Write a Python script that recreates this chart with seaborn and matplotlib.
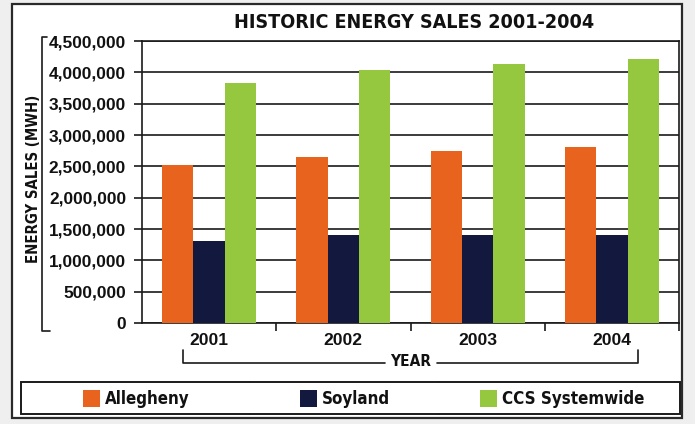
import matplotlib
matplotlib.use("Agg")
import matplotlib.pyplot as plt
from matplotlib import font_manager
from matplotlib.lines import Line2D
from matplotlib.patches import Rectangle
from matplotlib.ticker import FuncFormatter, FixedLocator
import seaborn as sns
import pandas as pd

years = ["2001", "2002", "2003", "2004"]
series = ["Allegheny", "Soyland", "CCS Systemwide"]
allegheny = [2515000, 2645000, 2740000, 2815000]
soyland = [1310000, 1410000, 1405000, 1405000]
ccs = [3825000, 4035000, 4135000, 4215000]
colors = ["#E8641E", "#13183F", "#95C83E"]
yticks = [0, 500000, 1000000, 1500000, 2000000, 2500000, 3000000, 3500000, 4000000, 4500000]
title = "HISTORIC ENERGY SALES 2001-2004"
ylabel = "ENERGY SALES (MWH)"
xlabel = "YEAR"

df = pd.DataFrame({
    "year": years * 3,
    "series": [s for s in series for _ in years],
    "value": allegheny + soyland + ccs,
})

sns.set_theme(style="white")
names = {f.name for f in font_manager.fontManager.ttflist}
narrow = "Liberation Sans Narrow" if "Liberation Sans Narrow" in names else None
regular = "Liberation Sans" if "Liberation Sans" in names else "DejaVu Sans"
plt.rcParams["font.family"] = [regular, "DejaVu Sans"]

def nfont(size):
    if narrow:
        return dict(family=narrow, fontsize=size, fontweight="bold")
    return dict(family="DejaVu Sans", fontsize=size * 0.85, fontweight="bold", fontstretch="condensed")

W, H = 695, 424
fig = plt.figure(figsize=(W / 100, H / 100), dpi=100, facecolor="#efefef")

def fx(x):
    return x / W

def fy(y):
    return 1 - y / H

# outer white panel
fig.patches.append(Rectangle((fx(12), fy(418)), fx(682) - fx(12), fy(4) - fy(418),
                             transform=fig.transFigure, facecolor="white",
                             edgecolor="#2a2a2a", lw=1.6, zorder=-5))

ax = fig.add_axes([fx(142), fy(323), fx(679) - fx(142), fy(41) - fy(323)])
ax.set_zorder(2)
ax.set_facecolor("white")
sns.barplot(data=df, x="year", y="value", hue="series", hue_order=series,
            order=years, palette=colors, width=0.7, saturation=1, gap=0,
            legend=False, ax=ax, zorder=3, linewidth=0)

ax.set_ylim(0, 4500000)
ax.set_xlim(-0.5, 3.5)
ax.yaxis.set_major_locator(FixedLocator(yticks))
ax.yaxis.set_major_formatter(FuncFormatter(lambda v, p: f"{int(v):,}"))
ax.grid(axis="y", color="#1a1a1a", lw=1.2, zorder=0)
ax.set_axisbelow(True)
for s in ax.spines.values():
    s.set_color("#1a1a1a")
    s.set_linewidth(1.2)
ax.set_xlabel("")
ax.set_ylabel("")
ax.tick_params(axis="y", which="major", direction="out", length=5.5, width=1.2,
               color="#1a1a1a", pad=6, labelsize=12.4, left=True)
ax.tick_params(axis="x", which="major", length=0, pad=7, labelsize=12.6)
ax.set_xticks([0.5, 1.5, 2.5, 3.5], minor=True)
ax.tick_params(axis="x", which="minor", direction="out", length=5.5, width=1.2,
               color="#1a1a1a", bottom=True)
for lab in ax.get_yticklabels() + ax.get_xticklabels():
    lab.set_fontweight("bold")
    lab.set_color("#111111")

# title
fig.text(fx(414), fy(22), title, ha="center", va="center", color="#111111", **nfont(16.6))

# y label with bracket
fig.text(fx(34), fy(179), ylabel, ha="center", va="center", rotation=90,
         color="#111111", **nfont(12.6))
fig.lines.append(Line2D([fx(47), fx(42), fx(42), fx(50)], [fy(37), fy(37), fy(331), fy(331)],
                        transform=fig.transFigure, color="#1a1a1a", lw=1.2))

# x label with bracket
fig.lines.append(Line2D([fx(183), fx(183), fx(385)], [fy(350), fy(362.5), fy(362.5)],
                        transform=fig.transFigure, color="#1a1a1a", lw=1.2))
fig.lines.append(Line2D([fx(437), fx(638), fx(638)], [fy(362.5), fy(362.5), fy(350)],
                        transform=fig.transFigure, color="#1a1a1a", lw=1.2))
fig.text(fx(411), fy(362), xlabel, ha="center", va="center", color="#111111", **nfont(13))

# legend box
fig.patches.append(Rectangle((fx(21), fy(414)), fx(680) - fx(21), fy(382) - fy(414),
                             transform=fig.transFigure, facecolor="white",
                             edgecolor="#1a1a1a", lw=1.4, zorder=1))
for xd in [250, 439]:
    fig.lines.append(Line2D([fx(xd), fx(xd)], [fy(382), fy(414)],
                            transform=fig.transFigure, color="#1a1a1a", lw=1.4, zorder=1))
for name, col, sx in zip(series, colors, [83, 300, 480]):
    fig.patches.append(Rectangle((fx(sx), fy(407)), fx(17), fy(390) - fy(407),
                                 transform=fig.transFigure, facecolor=col, lw=0, zorder=2))
    fig.text(fx(sx + 22), fy(399), name, ha="left", va="center", color="#111111", **nfont(14.3))

fig.savefig("out.png", dpi=100, facecolor=fig.get_facecolor())
